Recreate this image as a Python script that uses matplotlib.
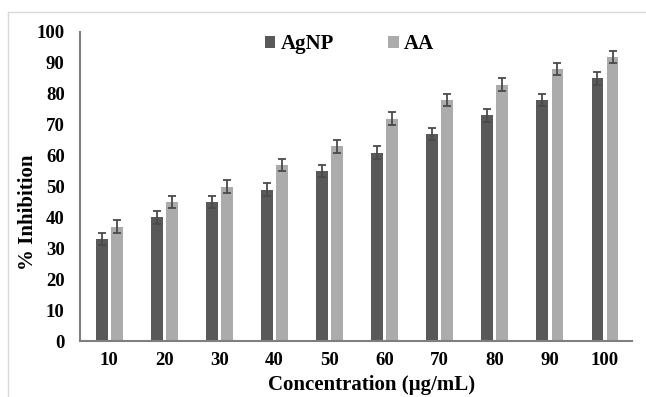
import matplotlib
matplotlib.use("Agg")
import matplotlib.pyplot as plt
import numpy as np
from matplotlib.lines import Line2D

concentrations = ["10", "20", "30", "40", "50", "60", "70", "80", "90", "100"]
agnp = [33, 40, 45, 49, 55, 61, 67, 73, 78, 85]
agnp_err = [2, 2, 2, 2, 2, 2, 2, 2, 2, 2]
aa = [37, 45, 50, 57, 63, 72, 78, 83, 88, 92]
aa_err = [2, 2, 2, 2, 2, 2, 2, 2, 2, 2]
y_ticks = [0, 10, 20, 30, 40, 50, 60, 70, 80, 90, 100]

plt.rcParams["font.family"] = ["Liberation Serif", "DejaVu Serif"]
plt.rcParams["font.weight"] = "bold"

W, H = 646, 397
fig = plt.figure(figsize=(W / 100, H / 100), dpi=100)
ax = fig.add_axes([80 / W, 1 - 341 / H, (632 - 80) / W, (341 - 32) / H])

x = np.arange(len(concentrations))
w = 0.215
off = 0.137
dark = "#595959"
light = "#ababab"
ecol = "#4a4a4a"

ax.bar(x - off, agnp, w, color=dark, label="AgNP", zorder=2)
ax.bar(x + off, aa, w, color=light, label="AA", zorder=2)
ekw = dict(fmt="none", ecolor=ecol, elinewidth=1.3, capsize=3, capthick=1.3, zorder=3)
ax.errorbar(x - off, agnp, yerr=agnp_err, **ekw)
ax.errorbar(x + off, aa, yerr=aa_err, **ekw)

ax.set_xlim(-0.53, 9.49)
ax.set_ylim(0, 100)
ax.set_yticks(y_ticks)
ax.set_xticks(x)
ax.set_xticklabels(concentrations)
for s in ["top", "right"]:
    ax.spines[s].set_visible(False)
for s in ["left", "bottom"]:
    ax.spines[s].set_color("#7f7f7f")
    ax.spines[s].set_linewidth(1.5)
ax.tick_params(length=0, labelsize=13.5)
ax.tick_params(axis="x", pad=8)
ax.tick_params(axis="y", pad=11)
for lab in ax.get_xticklabels() + ax.get_yticklabels():
    lab.set_fontweight("bold")

fig.text(372 / W, 1 - 385 / H, "Concentration (µg/mL)", fontsize=15, fontweight="bold",
         ha="center", va="center")
fig.text(28 / W, 1 - 212 / H, "% Inhibition", fontsize=15, fontweight="bold",
         ha="center", va="center", rotation=90)

ax.legend(loc="center left", bbox_to_anchor=(265 / W, 1 - 44 / H),
          bbox_transform=fig.transFigure, ncol=2, frameon=False, borderpad=0,
          borderaxespad=0, prop={"size": 15, "weight": "bold"},
          handlelength=0.5, handleheight=0.5, handletextpad=0.25, columnspacing=2.6)

# light frame around the chart area
fig.add_artist(Line2D([8 / W, 8 / W], [0, 1 - 12 / H], transform=fig.transFigure,
                      color="#d9d9d9", lw=1))
fig.add_artist(Line2D([8 / W, 1], [1 - 12 / H, 1 - 12 / H], transform=fig.transFigure,
                      color="#d9d9d9", lw=1))

fig.savefig("out.png", dpi=100)
